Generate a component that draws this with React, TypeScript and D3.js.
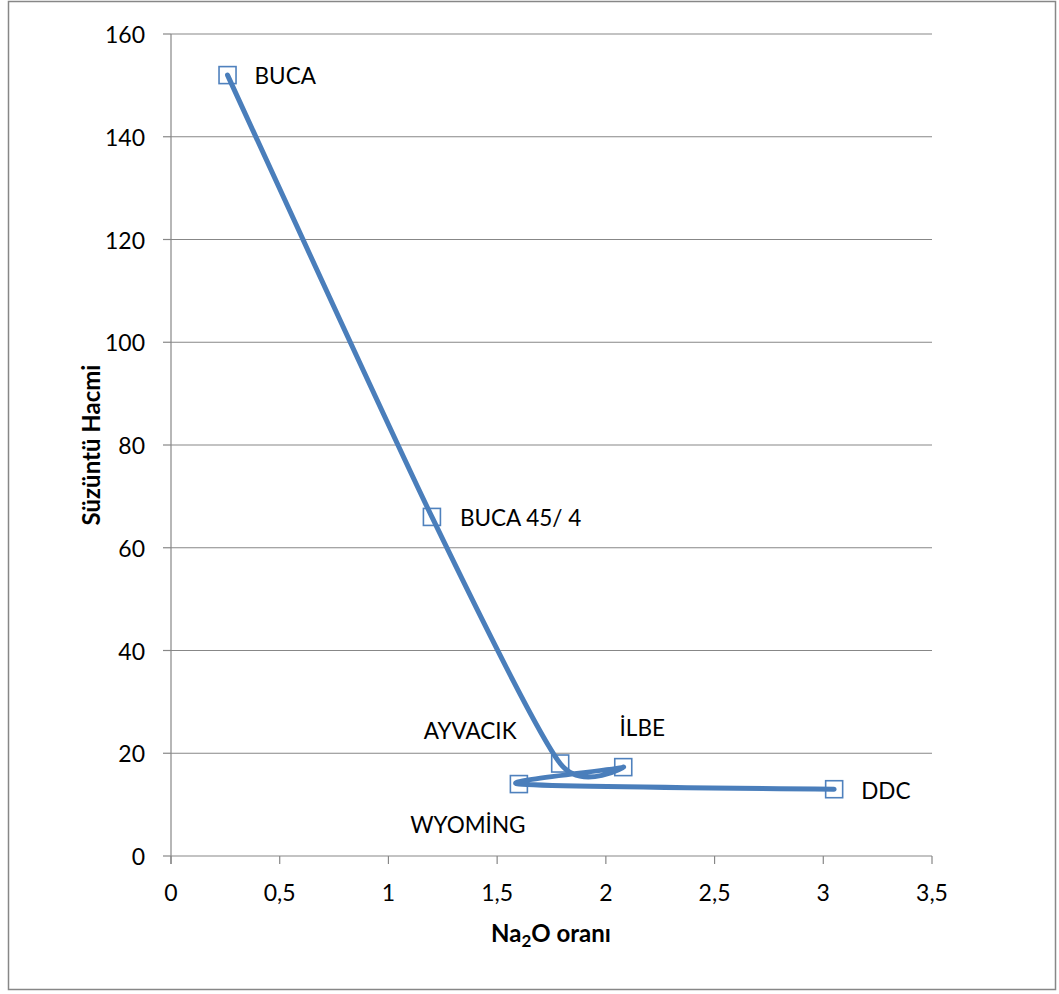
import React from "react";
import * as d3 from "d3";

// Samples: Na2O ratio vs filtrate volume, in the order the curve connects them
const sampleNames = ["BUCA", "BUCA 45/ 4", "AYVACIK", "İLBE", "WYOMİNG", "DDC"];
const na2oValues = [0.26, 1.2, 1.79, 2.08, 1.6, 3.05];
const volumeValues = [152, 66, 18, 17.3, 14, 13];

const xTicks = [0, 0.5, 1, 1.5, 2, 2.5, 3, 3.5];
const yTicks = [0, 20, 40, 60, 80, 100, 120, 140, 160];

// Label placement relative to each marker: [dx, dy, anchor]
const labelOffsets: [number, number, string][] = [
  [27, 0, "start"],
  [28, 1, "start"],
  [-90, -33, "middle"],
  [19, -40, "middle"],
  [-51, 40, "middle"],
  [27, 1, "start"],
];

const W = 1059;
const H = 994;
const plot = { left: 171, right: 932, top: 34, bottom: 856 };
const font = "Lato, 'Open Sans', sans-serif";
const gridColor = "#878787";
const lineColor = "#4A7EBB";
const markerColor = "#4F81BD";

export default function App() {
  const x = d3.scaleLinear().domain([0, 3.5]).range([plot.left, plot.right]);
  const y = d3.scaleLinear().domain([0, 160]).range([plot.bottom, plot.top]);

  const pts: [number, number][] = na2oValues.map((v, i) => [x(v), y(volumeValues[i])]);
  const path = d3.line().curve(d3.curveCardinal.tension(0.3))(pts) || "";
  const fmt = (v: number) => String(v).replace(".", ",");

  return (
    <svg
      width={W}
      height={H}
      style={{ position: "absolute", left: 0, top: 0, background: "#fff" }}
      fontFamily={font}
    >
      <rect x={8.5} y={1.5} width={1047} height={988} fill="#fff" stroke={gridColor} strokeWidth={1.5} />

      {/* horizontal gridlines and y ticks */}
      {yTicks.map((t) => (
        <g key={"y" + t}>
          <line x1={plot.left} x2={plot.right} y1={y(t)} y2={y(t)} stroke={gridColor} strokeWidth={1.2} />
          <line x1={plot.left - 8} x2={plot.left} y1={y(t)} y2={y(t)} stroke={gridColor} strokeWidth={1.2} />
          <text x={145} y={y(t)} textAnchor="end" dominantBaseline="central" fontSize={23} fill="#000">
            {t}
          </text>
        </g>
      ))}

      {/* axes */}
      <line x1={plot.left} x2={plot.left} y1={plot.top} y2={plot.bottom + 8} stroke={gridColor} strokeWidth={1.2} />
      {xTicks.map((t) => (
        <g key={"x" + t}>
          <line x1={x(t)} x2={x(t)} y1={plot.bottom} y2={plot.bottom + 8} stroke={gridColor} strokeWidth={1.2} />
          <text x={x(t)} y={892} textAnchor="middle" dominantBaseline="central" fontSize={23} fill="#000">
            {fmt(t)}
          </text>
        </g>
      ))}

      {/* markers */}
      {pts.map(([px, py], i) => (
        <rect
          key={"m" + i}
          x={px - 8.5}
          y={py - 8.5}
          width={17}
          height={17}
          fill="none"
          stroke={markerColor}
          strokeWidth={1.6}
        />
      ))}

      {/* smoothed line */}
      <path d={path} fill="none" stroke={lineColor} strokeWidth={5} strokeLinecap="round" strokeLinejoin="round" />

      {/* data labels */}
      {pts.map(([px, py], i) => (
        <text
          key={"l" + i}
          x={px + labelOffsets[i][0]}
          y={py + labelOffsets[i][1]}
          textAnchor={labelOffsets[i][2] as any}
          dominantBaseline="central"
          fontSize={22.5}
          fill="#000"
        >
          {sampleNames[i]}
        </text>
      ))}

      {/* axis titles */}
      <text x={551} y={932} textAnchor="middle" dominantBaseline="central" fontSize={24} fontWeight="bold" fill="#000">
        Na<tspan fontSize={17} dy={8}>2</tspan>
        <tspan dy={-8}>O oranı</tspan>
      </text>
      <text
        transform={`translate(90, 445) rotate(-90)`}
        textAnchor="middle"
        dominantBaseline="central"
        fontSize={24}
        fontWeight="bold"
        fill="#000"
      >
        Süzüntü Hacmi
      </text>
    </svg>
  );
}
